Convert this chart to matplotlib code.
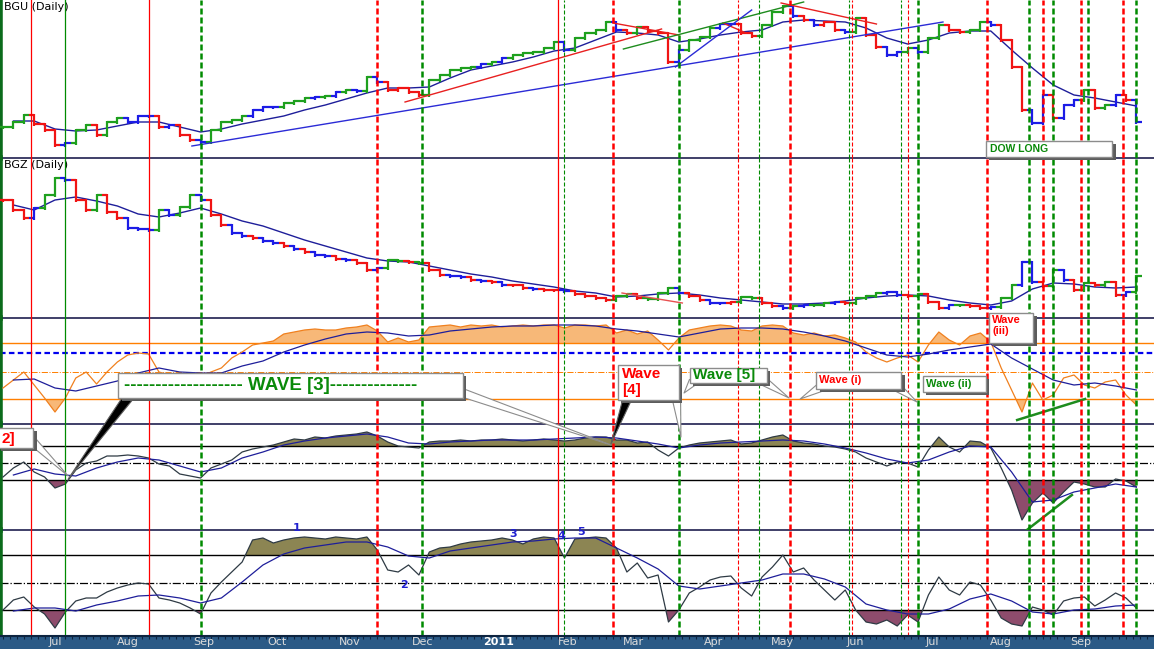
import numpy as np
import pandas as pd
import matplotlib
matplotlib.use("Agg")
import matplotlib.pyplot as plt
import matplotlib.patheffects as pe
from matplotlib.collections import LineCollection
from matplotlib.patches import Rectangle

# Daily sessions from 10 Jun 2010, NYSE holidays skipped
holidays = ["2010-07-05", "2010-09-06", "2010-11-25", "2010-12-24", "2011-01-17",
            "2011-02-21", "2011-04-22", "2011-05-30", "2011-07-04", "2011-09-05"]
dates = pd.bdate_range("2010-06-10", periods=332, freq="C", holidays=holidays)

days = np.arange(0, 330, 3)      # a reading every third session
maDays = np.arange(3, 330, 6)    # averages read every sixth session

# all values are levels above the floor of their own panel
bguClose = [
    31, 36, 43, 34, 28, 13, 15, 28, 33, 23,
    36, 40, 36, 42, 42, 31, 33, 23, 18, 16,
    28, 36, 38, 42, 48, 51, 51, 55, 57, 60,
    61, 62, 66, 68, 67, 81, 76, 68, 70, 66,
    63, 78, 83, 88, 90, 91, 94, 96, 100, 103,
    105, 106, 110, 116, 108, 120, 125, 128, 136, 128,
    125, 131, 127, 125, 96, 108, 118, 121, 130, 134,
    134, 125, 122, 133, 146, 152, 142, 138, 133, 136,
    128, 126, 140, 123, 111, 103, 106, 110, 106, 120,
    133, 128, 126, 128, 136, 133, 118, 91, 48, 35,
    63, 40, 53, 58, 68, 50, 53, 63, 58, 36,
]
bguTrend = ("GGGRRRBGGR" "GGBBBRBRRB" "GGGGBBBGGG" "BGBGBGBRRR" "RGGGGGBGBG"
            "GGGGBGGGGB" "RGRRRBGGGB" "BRRGGGBRBR" "RBGRRBBGBG" "GRRGGBRRRB" "BRBBGRGBRB")
bguMa = [
    37, 37, 29, 27, 28, 32, 36, 36, 31, 26,
    29, 34, 38, 42, 48, 53, 59, 65, 70, 70,
    71, 80, 88, 92, 96, 101, 107, 110, 118, 126,
    125, 123, 116, 119, 123, 126, 128, 136, 138, 137,
    136, 130, 120, 114, 118, 125, 127, 127, 108, 90,
    73, 63, 60, 56, 52,
]

bgzClose = [
    118, 108, 100, 110, 123, 140, 138, 118, 108, 123,
    106, 100, 90, 89, 88, 108, 103, 111, 123, 118,
    103, 93, 85, 82, 80, 77, 75, 72, 69, 66,
    63, 62, 59, 58, 55, 48, 50, 58, 57, 56,
    55, 48, 43, 42, 41, 38, 37, 36, 33, 33,
    30, 29, 28, 28, 27, 24, 22, 20, 18, 22,
    24, 20, 19, 25, 30, 25, 22, 18, 15, 15,
    16, 21, 20, 15, 12, 10, 12, 13, 13, 15,
    16, 15, 20, 22, 25, 26, 23, 22, 24, 16,
    10, 13, 13, 12, 10, 11, 20, 33, 56, 36,
    32, 48, 38, 28, 35, 33, 36, 23, 26, 42,
]
bgzTrend = ("RRRBGGBRRG" "RRBBBGBGGB" "RRBBRBBRBR" "BBRBRRBGGR" "GRRBBRBRBR"
            "RBRRBRRRRG" "GRGGGBRRBB" "RGGRRBGBGG" "BRGGGBBRGR" "RBGRRBGGBB" "RGBRGRGRBG")
bgzMa = [
    113, 108, 118, 121, 117, 112, 104, 101, 105, 110,
    104, 97, 92, 85, 78, 72, 66, 60, 57, 56,
    52, 48, 44, 41, 37, 34, 31, 27, 25, 21,
    22, 24, 25, 23, 20, 18, 16, 14, 14, 15,
    17, 20, 22, 23, 22, 18, 15, 13, 17, 29,
    35, 34, 31, 30, 31,
]

osc1 = [
    36, 44, 52, 39, 26, 12, 26, 46, 52, 40,
    52, 62, 69, 71, 70, 52, 49, 40, 44, 47,
    52, 56, 66, 72, 79, 81, 83, 90, 92, 94,
    95, 94, 94, 96, 97, 99, 93, 82, 86, 82,
    84, 97, 98, 99, 97, 99, 98, 99, 97, 98,
    99, 98, 99, 99, 96, 99, 99, 98, 99, 91,
    94, 90, 93, 84, 74, 86, 94, 96, 98, 99,
    98, 94, 93, 98, 99, 98, 91, 89, 91, 88,
    89, 86, 82, 72, 66, 62, 66, 69, 62, 79,
    92, 84, 79, 88, 91, 82, 56, 34, 12, 41,
    24, 29, 46, 49, 39, 36, 42, 44, 29, 19,
]
osc1Ma = [
    44, 45, 36, 33, 38, 43, 51, 56, 52, 51,
    51, 58, 63, 72, 79, 85, 90, 92, 91, 88,
    89, 93, 95, 97, 98, 98, 99, 99, 98, 95,
    93, 90, 87, 91, 95, 96, 96, 95, 92, 88,
    83, 76, 69, 67, 70, 74, 77, 80, 66, 55,
    44, 39, 41, 38, 34,
]

osc2 = [
    53, 62, 68, 58, 53, 42, 46, 60, 67, 69,
    74, 74, 75, 74, 72, 66, 64, 56, 54, 52,
    62, 66, 70, 78, 81, 83, 85, 88, 91, 90,
    93, 92, 94, 95, 96, 98, 94, 88, 84, 83,
    82, 88, 89, 89, 90, 89, 90, 90, 91, 90,
    89, 90, 91, 90, 89, 90, 92, 93, 93, 90,
    90, 87, 88, 80, 74, 82, 85, 87, 88, 89,
    90, 86, 87, 90, 93, 95, 89, 87, 86, 84,
    83, 81, 78, 72, 68, 64, 68, 67, 63, 80,
    93, 83, 78, 89, 88, 82, 62, 40, 10, 27,
    37, 27, 38, 48, 46, 43, 43, 51, 49, 43,
]
osc2Ma = [
    55, 61, 56, 54, 62, 68, 72, 70, 64, 58,
    62, 72, 78, 85, 89, 92, 94, 96, 93, 87,
    86, 88, 89, 90, 90, 90, 91, 92, 93, 92,
    89, 86, 82, 85, 87, 88, 89, 90, 89, 86,
    82, 77, 71, 67, 70, 78, 84, 83, 58, 28,
    30, 38, 42, 46, 43,
]

osc3 = [
    26, 36, 39, 29, 22, 8, 24, 35, 38, 38,
    44, 48, 51, 53, 52, 38, 36, 33, 28, 22,
    43, 54, 64, 74, 96, 98, 93, 96, 98, 99,
    98, 97, 99, 98, 97, 99, 86, 66, 64, 71,
    61, 84, 88, 89, 92, 94, 95, 96, 98, 96,
    92, 97, 99, 98, 78, 97, 98, 99, 98, 88,
    64, 73, 58, 61, 14, 26, 43, 49, 56, 59,
    60, 48, 40, 59, 69, 81, 64, 68, 56, 46,
    36, 46, 26, 14, 12, 16, 10, 21, 14, 41,
    59, 46, 41, 54, 51, 36, 18, 12, 10, 29,
    26, 21, 35, 38, 39, 30, 36, 43, 38, 28,
]
osc3Ma = [
    25, 28, 28, 25, 31, 35, 40, 41, 38, 33,
    38, 54, 71, 82, 88, 91, 94, 94, 89, 80,
    78, 85, 88, 91, 94, 95, 97, 98, 98, 88,
    78, 67, 50, 47, 50, 53, 56, 62, 62, 57,
    49, 32, 26, 22, 22, 27, 37, 42, 35, 24,
    22, 26, 27, 30, 31,
]

# signal sessions marked right across the chart
signals = [
    (8, "r", "solid"), (18, "g", "solid"), (42, "r", "solid"), (57, "g", "thick"),
    (108, "r", "thick"), (121, "g", "thick"), (160, "r", "solid"), (162, "g", "thin"),
    (176, "r", "thick"), (195, "g", "thick"), (212, "r", "thin"), (218, "g", "thin"),
    (227, "r", "thick"), (244, "g", "thin"), (245, "r", "thin"), (259, "g", "thin"),
    (261, "r", "thin"), (264, "g", "thick"), (284, "r", "thick"), (296, "g", "thick"),
    (300, "r", "thick"), (303, "g", "thick"), (311, "r", "thick"), (313, "g", "thick"),
    (323, "r", "thick"), (327, "g", "thick"),
]

bguLines = [
    ((54.5, 12), (271.2, 136), "#2b2bd6"),
    ((116, 56), (190, 129), "#e82020"),
    ((176, 135), (195, 123), "#e82020"),
    ((207.7, 135), (214.4, 125), "#e82020"),
    ((179, 109), (231, 156), "#1e8c1e"),
    ((194, 91), (216, 148), "#2b2bd6"),
    ((224.5, 155), (252, 134), "#e82020"),
]
bgzLines = [((178.6, 25), (196, 15), "#e85050")]
osc1Lines = [((292.6, 4), (312.2, 25), "#1e8c1e")]
osc2Lines = [((295.4, 0), (308.4, 35), "#1e8c1e")]

waveCounts = [(84.8, 108, "1"), (115.7, 51, "2"), (147.1, 102, "3"), (161.0, 100, "4"), (166.8, 104, "5")]

W, H = 1154, 649
pxPerDay, x0px = 3.466, 3
xlim = (-x0px / pxPerDay, (W - x0px) / pxPerDay)
barColours = {"G": "#1ea01e", "R": "#f01414", "B": "#1c1ce6"}
maBlue = "#1e1e9a"
lineStyles = {
    "solid": dict(lw=0.9, ls="-"),
    "thick": dict(lw=1.8, ls=(0, (2.4, 1.2))),
    "thin": dict(lw=0.8, ls=(0, (3.6, 1.8))),
}


def drawBars(ax, vals, codes):
    segs, cols = [], []
    for i, v in enumerate(vals):
        prev = vals[i - 1] if i else v
        d = days[i]
        segs += [[(d, min(prev, v) - 1.5), (d, max(prev, v) + 1.5)],
                 [(d - 1.5, prev), (d, prev)],
                 [(d, v), (d + 1.5, v)]]
        cols += [barColours[codes[i]]] * 3
    ax.add_collection(LineCollection(segs, colors=cols, linewidths=1.6, zorder=5))


def drawLines(ax, lines, lw=1.0):
    for (xa, ya), (xb, yb), c in lines:
        ax.plot([xa, xb], [ya, yb], color=c, lw=lw, zorder=6)


def drawOsc(ax, vals, ma, colour, hiFill, loFill, hi, lo):
    v = np.array(vals, dtype=float)
    ax.fill_between(days, hi, v, where=v > hi, interpolate=True, color=hiFill, lw=0, zorder=1)
    ax.fill_between(days, lo, v, where=v < lo, interpolate=True, color=loFill, lw=0, zorder=1)
    ax.plot(days, v, color=colour, lw=0.9, zorder=4)
    ax.plot(maDays, ma, color=maBlue, lw=0.9, zorder=4)


fig = plt.figure(figsize=(W / 100, H / 100), dpi=100)
fig.patch.set_facecolor("white")

edges = [0, 158, 318, 424, 530, 636]
axes = []
for top, bottom in zip(edges[:-1], edges[1:]):
    ax = fig.add_axes([0, 1 - bottom / H, 1, (bottom - top) / H])
    ax.set_xlim(xlim)
    ax.set_ylim(0, bottom - top)
    ax.set_xticks([])
    ax.set_yticks([])
    ax.patch.set_visible(False)
    ax.spines["top"].set_visible(False)
    ax.spines["right"].set_visible(False)
    ax.spines["bottom"].set_color("#0c0c40")
    ax.spines["bottom"].set_linewidth(1.1)
    ax.spines["left"].set_color("#0b6b1b")
    ax.spines["left"].set_linewidth(4)
    for d, c, kind in signals:
        ax.axvline(d, color="#ff0000" if c == "r" else "#008a00", zorder=7, **lineStyles[kind])
    axes.append(ax)
axBgu, axBgz, axO1, axO2, axO3 = axes

# price panels
drawBars(axBgu, bguClose, bguTrend)
axBgu.plot(maDays, bguMa, color=maBlue, lw=1.0, zorder=4)
drawLines(axBgu, bguLines)
axBgu.text(0.0035, 0.99, "BGU (Daily)", transform=axBgu.transAxes, va="top", ha="left",
           fontsize=8, color="black")

drawBars(axBgz, bgzClose, bgzTrend)
axBgz.plot(maDays, bgzMa, color=maBlue, lw=1.0, zorder=4)
drawLines(axBgz, bgzLines)
axBgz.text(0.0035, 0.985, "BGZ (Daily)", transform=axBgz.transAxes, va="top", ha="left",
           fontsize=8, color="black")

# oscillators
axO1.axhline(81, color="#ff7f00", lw=1.0, zorder=2)
axO1.axhline(25, color="#ff7f00", lw=1.0, zorder=2)
axO1.axhline(52, color="#ff7f00", lw=0.7, ls="-.", zorder=2)
axO1.axhline(71, color="#0000ee", lw=1.6, ls=(0, (2.5, 1.5)), zorder=2)
drawOsc(axO1, osc1, osc1Ma, "#f0801e", "#f7b878", "#f7b878", 81, 25)
drawLines(axO1, osc1Lines, lw=1.8)

for ax, hi, mid, lo, vals, ma in [(axO2, 84, 67, 50, osc2, osc2Ma), (axO3, 81, 53, 26, osc3, osc3Ma)]:
    ax.axhline(hi, color="black", lw=1.0, zorder=2)
    ax.axhline(lo, color="black", lw=1.0, zorder=2)
    ax.axhline(mid, color="black", lw=0.9, ls="-.", zorder=2)
    drawOsc(ax, vals, ma, "#2e3a44", "#8c8553", "#8e4c6c", hi, lo)
drawLines(axO2, osc2Lines, lw=1.8)

# date bar
axDate = fig.add_axes([0, 0, 1, (H - edges[-1]) / H])
axDate.set_facecolor("#2b5a86")
axDate.set_xlim(xlim)
axDate.set_ylim(0, 1)
axDate.set_yticks([])
axDate.set_xticks([])
axDate.set_xticks(np.arange(0, 331, 2), minor=True)
axDate.tick_params(which="minor", top=True, bottom=False, direction="in", length=2,
                   color="#0d2440", width=0.8)
for side in ("left", "right", "bottom"):
    axDate.spines[side].set_visible(False)
axDate.spines["top"].set_color("#0d2440")
axDate.spines["top"].set_linewidth(1.5)
for i in range(1, len(dates)):
    if dates[i].month != dates[i - 1].month:
        newYear = dates[i].month == 1
        label = str(dates[i].year) if newYear else dates[i].strftime("%b")
        axDate.text(i, 0.9, label, ha="center", va="top", fontsize=8,
                    color="white" if newYear else "#dcdcdc",
                    fontweight="bold" if newYear else "normal")

# annotation layer on top of every panel
over = fig.add_axes([0, 0, 1, 1], zorder=10)
over.set_axis_off()
shadow = [pe.SimplePatchShadow(offset=(2.5, -2.5), shadow_rgbFace="#5c5c5c", alpha=1), pe.Normal()]


def callout(ax, box, text, colour, size, tx, ty, va="center", ha="left"):
    (xa, xb), (ya, yb) = box
    over.add_patch(Rectangle((xa, ya), xb - xa, yb - ya, transform=ax.transData, fc="white",
                             ec="#8c8c8c", lw=1, zorder=20, path_effects=shadow))
    over.text(tx, ty, text, transform=ax.transData, color=colour, fontsize=size,
              fontweight="bold", family="Liberation Sans", va=va, ha=ha, zorder=21,
              linespacing=1.15)


def pointer(axA, start, axB, end, fill="white", edge="#8c8c8c", width=0.6):
    over.annotate("", xy=end, xycoords=axB.transData, xytext=start, textcoords=axA.transData,
                  arrowprops=dict(arrowstyle=f"wedge,tail_width={width},shrink_factor=0.5",
                                  fc=fill, ec=edge, lw=0.8, shrinkA=0, shrinkB=0),
                  zorder=19, annotation_clip=False)


pointer(axO1, (36.0, 26), axO2, (18.8, 51), fill="black", edge="#606060", width=0.7)
pointer(axO1, (132.7, 31), axO2, (175.4, 85))
callout(axO1, ((33.2, 132.7), (26, 51)), "-" * 19 + " WAVE [3]" + "-" * 14, "#0a8a0a", 13.5, 34.9, 38.5)

pointer(axO2, (8.7, 88), axO2, (18.8, 54))
callout(axO2, ((-1.5, 8.7), (82, 102)), "2]", "#ff0000", 11, -0.5, 91)

pointer(axO1, (180.0, 24), axO2, (175.4, 86), fill="black", edge="#606060", width=0.6)
pointer(axO1, (194.3, 25), axO2, (195.6, 93))
callout(axO1, ((177.4, 195.0), (24, 59)), "Wave\n[4]", "#ff0000", 11, 178.6, 57, va="top")

pointer(axO1, (199.0, 42), axO1, (196.5, 31))
pointer(axO1, (219.8, 42), axO1, (226.8, 26))
callout(axO1, ((198.2, 220.4), (41, 56)), "Wave [5]", "#0a8a0a", 11, 199.2, 48.5)

pointer(axO1, (235.5, 36), axO1, (230.0, 25))
pointer(axO1, (258.3, 36), axO1, (263.7, 22))
callout(axO1, ((234.6, 259.1), (35, 52)), "Wave (i)", "#ff0000", 8, 235.5, 44)

callout(axO1, ((265.4, 283.6), (32, 48)), "Wave (ii)", "#0a8a0a", 8, 266.3, 40)
callout(axO1, ((284.5, 297.2), (81, 111)), "Wave\n(iii)", "#ff0000", 8, 285.4, 109, va="top")
callout(axBgu, ((283.6, 320.0), (1, 17)), "DOW LONG", "#0a8a0a", 7.5, 284.8, 9)

for d, lvl, s in waveCounts:
    over.text(d, lvl, s, transform=axO3.transData, color="#2020d0", fontsize=8,
              fontweight="bold", ha="center", va="center", zorder=21)

fig.savefig("out.png", dpi=100, facecolor="white")
